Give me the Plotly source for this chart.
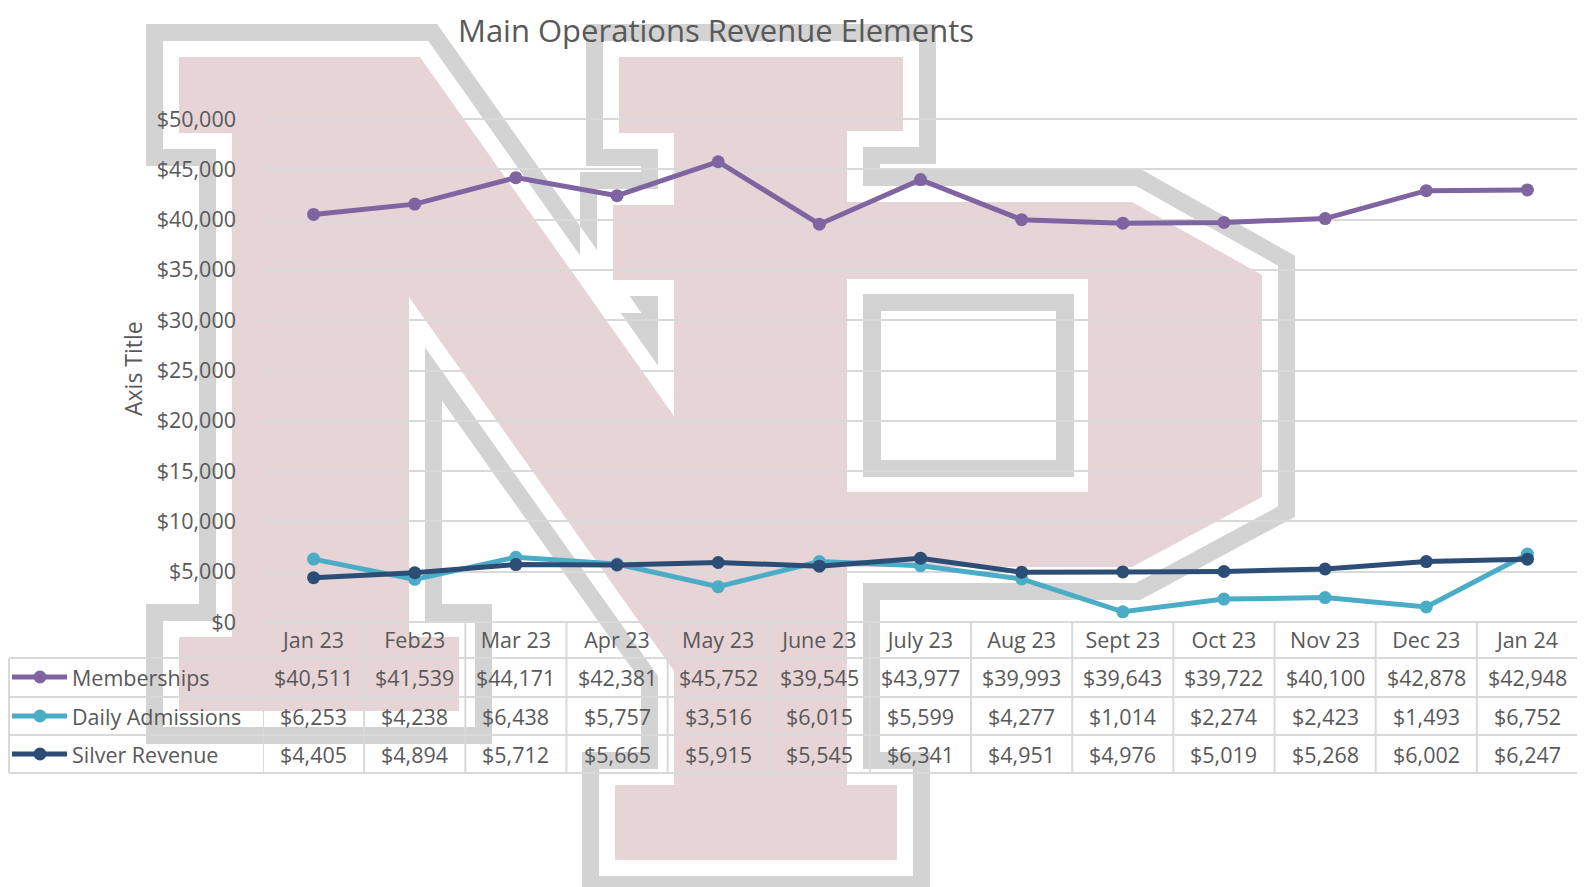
import plotly.graph_objects as go

# ---------------- data ----------------
categories = ["Jan 23", "Feb23", "Mar 23", "Apr 23", "May 23", "June 23", "July 23",
              "Aug 23", "Sept 23", "Oct 23", "Nov 23", "Dec 23", "Jan 24"]
memberships = [40511, 41539, 44171, 42381, 45752, 39545, 43977, 39993, 39643, 39722, 40100, 42878, 42948]
daily_admissions = [6253, 4238, 6438, 5757, 3516, 6015, 5599, 4277, 1014, 2274, 2423, 1493, 6752]
silver_revenue = [4405, 4894, 5712, 5665, 5915, 5545, 6341, 4951, 4976, 5019, 5268, 6002, 6247]
series_names = ["Memberships", "Daily Admissions", "Silver Revenue"]
series_colors = ["#8064A2", "#4BACC6", "#2C4D75"]
title_text = "Main Operations Revenue Elements"
axis_title_text = "Axis Title"

# ---------------- geometry (reference-page pixels) ----------------
BODY = 8                      # default page margin around the plot
FW, FH = 1585 - BODY, 887 - BODY
L, R, T, B = 263, 1578, 99, 622
Y50 = 119
ytop = 50000 * (B - T) / (B - Y50)
TXT = "#595959"
FONT = "Open Sans"
FS = 21.5
GRID = "#d9d9d9"
PINK = "#e7d4d7"
GREY = "#d3d3d3"


def px(x):
    return (x - L) / (R - L)


def py(y):
    return (B - y) / (B - T)


def offset_poly(pts, d):
    n = len(pts)
    area = sum(pts[i][0] * pts[(i + 1) % n][1] - pts[(i + 1) % n][0] * pts[i][1] for i in range(n)) / 2
    s = 1 if area > 0 else -1
    lines = []
    for i in range(n):
        (x1, y1), (x2, y2) = pts[i], pts[(i + 1) % n]
        dx, dy = x2 - x1, y2 - y1
        ln = (dx * dx + dy * dy) ** 0.5
        dx, dy = dx / ln, dy / ln
        nx, ny = s * dy, -s * dx
        lines.append(((x1 + nx * d, y1 + ny * d), (dx, dy)))
    out = []
    for i in range(n):
        (p1, r1) = lines[i - 1]
        (p2, r2) = lines[i]
        cr = r1[0] * r2[1] - r1[1] * r2[0]
        if abs(cr) < 1e-9:
            out.append(p2)
            continue
        t = ((p2[0] - p1[0]) * r2[1] - (p2[1] - p1[1]) * r2[0]) / cr
        out.append((p1[0] + r1[0] * t, p1[1] + r1[1] * t))
    return out


def path_of(pts):
    return "M " + " L ".join(f"{px(x):.5f},{py(y):.5f}" for x, y in pts) + " Z"


N_shape = [(179, 57), (420, 57), (674, 416), (674, 280), (613, 280), (613, 205), (760, 205),
           (760, 671), (674, 671), (409, 297), (409, 637), (459, 637), (459, 711), (179, 711),
           (179, 637), (232, 637), (232, 133), (179, 133)]
P_shape = [(619, 57), (903, 57), (903, 131), (847, 131), (847, 202), (1132, 202), (1262, 275),
           (1262, 497), (1132, 567), (847, 567), (847, 785), (897, 785), (897, 860), (615, 860),
           (615, 785), (674, 785), (674, 133), (619, 133)]

shapes = []
for d, col in [(33, GREY), (16, "white"), (0, PINK)]:
    for poly in (N_shape, P_shape):
        pts = offset_poly(poly, d) if d else poly
        shapes.append(dict(type="path", path=path_of(pts), xref="paper", yref="paper",
                           fillcolor=col, line=dict(width=0), layer="below"))
for (x0, y0, x1, y1), col in [((847, 279, 1088, 492), "white"), ((863, 294, 1074, 477), GREY),
                              ((881, 311, 1056, 460), "white")]:
    shapes.append(dict(type="rect", xref="paper", yref="paper", x0=px(x0), x1=px(x1),
                       y0=py(y1), y1=py(y0), fillcolor=col, line=dict(width=0), layer="below"))

# ---------------- data table ----------------
TL = 9
row_lines = [658, 697, 735, 773]
row_centers = [677, 716, 754]
shapes.append(dict(type="line", xref="paper", yref="paper", x0=px(L), x1=px(R), y0=py(B), y1=py(B),
                   line=dict(color=GRID, width=2), layer="above"))
for yl in row_lines:
    shapes.append(dict(type="line", xref="paper", yref="paper", x0=px(TL), x1=px(R), y0=py(yl), y1=py(yl),
                       line=dict(color=GRID, width=2), layer="above"))
shapes.append(dict(type="line", xref="paper", yref="paper", x0=px(TL), x1=px(TL), y0=py(658), y1=py(773),
                   line=dict(color=GRID, width=2), layer="above"))
for k in range(len(categories) + 1):
    shapes.append(dict(type="line", xref="x", yref="paper", x0=k - 0.5, x1=k - 0.5, y0=py(B), y1=py(773),
                       line=dict(color=GRID, width=2), layer="above"))

annotations = []
all_series = [memberships, daily_admissions, silver_revenue]
for name, vals, col, yc in zip(series_names, all_series, series_colors, row_centers):
    shapes.append(dict(type="line", xref="paper", yref="paper", x0=px(12), x1=px(67), y0=py(yc), y1=py(yc),
                       line=dict(color=col, width=5), layer="above"))
    shapes.append(dict(type="circle", xref="paper", yref="paper", x0=px(33.5), x1=px(46.5),
                       y0=py(yc + 6.5), y1=py(yc - 6.5), fillcolor=col, line=dict(width=0), layer="above"))
    annotations.append(dict(text=name, xref="paper", yref="paper", x=px(70), y=py(yc), xanchor="left",
                            yanchor="middle", showarrow=False, font=dict(family=FONT, size=FS, color=TXT)))
    for c, v in zip(categories, vals):
        annotations.append(dict(text=f"${v:,}", xref="x", yref="paper", x=c, y=py(yc), xanchor="center",
                                yanchor="middle", showarrow=False, font=dict(family=FONT, size=FS, color=TXT)))

annotations.append(dict(text=title_text, xref="paper", yref="paper", x=px(716), y=py(BODY), xanchor="center",
                        yanchor="top", showarrow=False, borderpad=0,
                        font=dict(family=FONT, size=31, color=TXT)))
annotations.append(dict(text=axis_title_text, xref="paper", yref="paper", x=px(133), y=py(369),
                        xanchor="center", yanchor="middle", textangle=-90, showarrow=False,
                        font=dict(family=FONT, size=23, color=TXT)))

# ---------------- figure ----------------
fig = go.Figure()
for name, vals, col in zip(series_names, all_series, series_colors):
    fig.add_trace(go.Scatter(x=categories, y=vals, name=name, mode="lines+markers",
                             line=dict(color=col, width=5), marker=dict(size=13, color=col)))

fig.update_layout(
    width=FW, height=FH,
    margin=dict(l=L - BODY, r=FW - (R - BODY), t=T - BODY, b=FH - (B - BODY), pad=0),
    paper_bgcolor="white", plot_bgcolor="rgba(0,0,0,0)",
    showlegend=False,
    shapes=shapes, annotations=annotations,
    xaxis=dict(type="category", range=[-0.5, len(categories) - 0.5], showgrid=False, zeroline=False,
               showline=False, ticks="", ticklabelstandoff=3,
               tickfont=dict(family=FONT, size=FS, color=TXT)),
    yaxis=dict(range=[0, ytop], tick0=0, dtick=5000, showgrid=True, gridcolor=GRID, gridwidth=1.5,
               zeroline=False, showline=False, ticks="", tickprefix="$", tickformat=",d",
               ticklabelstandoff=26, tickfont=dict(family=FONT, size=FS, color=TXT)),
)

fig.write_html("out.html")
